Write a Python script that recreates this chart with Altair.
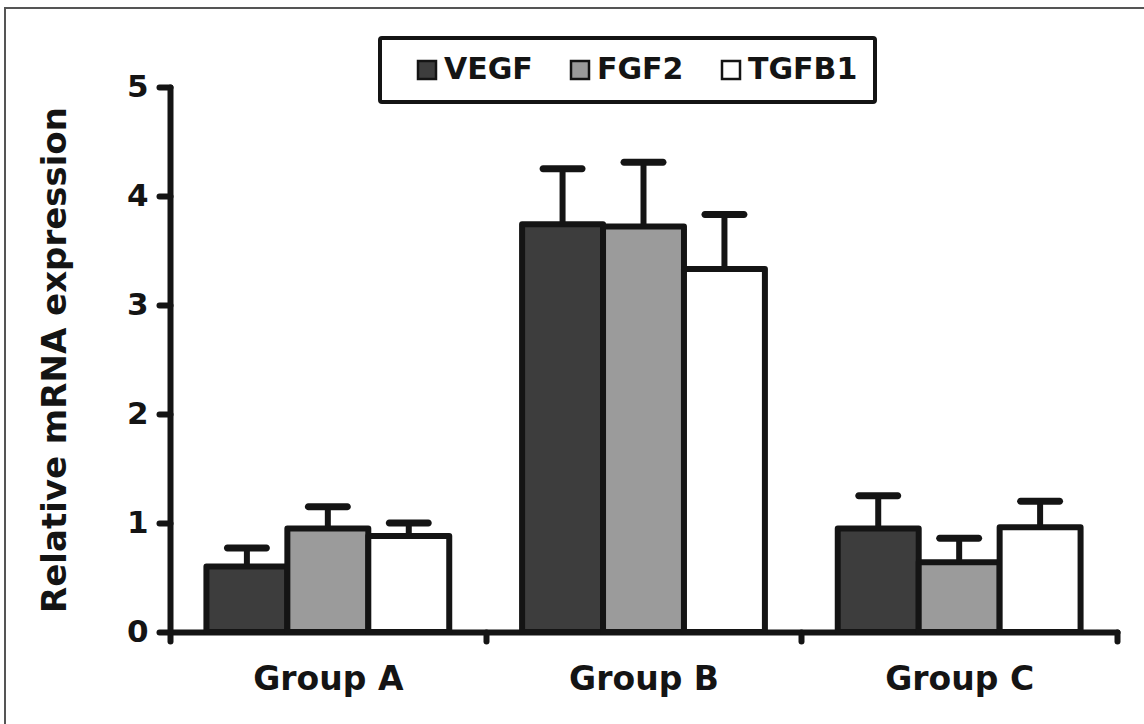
import altair as alt
import pandas as pd

groups = ["Group A", "Group B", "Group C"]
series = ["VEGF", "FGF2", "TGFB1"]
vegf_mean = [0.60, 3.74, 0.95]
fgf2_mean = [0.95, 3.72, 0.64]
tgfb1_mean = [0.88, 3.33, 0.96]
vegf_err = [0.17, 0.51, 0.30]
fgf2_err = [0.20, 0.59, 0.22]
tgfb1_err = [0.12, 0.50, 0.24]
y_ticks = [0, 1, 2, 3, 4, 5]
colors = ["#3d3d3d", "#9b9b9b", "#ffffff"]

rows = []
for s, means, errs in zip(series, [vegf_mean, fgf2_mean, tgfb1_mean], [vegf_err, fgf2_err, tgfb1_err]):
    for g, m, e in zip(groups, means, errs):
        rows.append({"group": g, "series": s, "mean": m, "upper": m + e})
df = pd.DataFrame(rows)

INK = "#141414"
FONT = "DejaVu Sans"

x_enc = alt.X(
    "group:N",
    sort=groups,
    scale=alt.Scale(paddingInner=0, paddingOuter=0),
    axis=alt.Axis(
        title=None,
        labelAngle=0,
        labelFont=FONT,
        labelFontSize=33,
        labelFontWeight="bold",
        labelColor=INK,
        labelPadding=22,
        tickBand="extent",
        tickSize=9,
        tickWidth=6,
        tickColor=INK,
        tickCap="round",
        domainWidth=6,
        domainColor=INK,
        domainCap="round",
        grid=False,
    ),
)
xoff_enc = alt.XOffset("series:N", sort=series, scale=alt.Scale(paddingInner=0, paddingOuter=0.45))

y_scale = alt.Scale(domain=[0, 5], nice=False)

base = alt.Chart(df)

bars = base.mark_bar(stroke=INK, strokeWidth=6, strokeJoin="round").encode(
    x=x_enc,
    xOffset=xoff_enc,
    y=alt.Y(
        "mean:Q",
        scale=y_scale,
        axis=alt.Axis(
            values=y_ticks,
            format="d",
            title="Relative mRNA expression",
            titleFont=FONT,
            titleFontSize=34,
            titleFontWeight="bold",
            titleColor=INK,
            titlePadding=54,
            labelFont=FONT,
            labelFontSize=31,
            labelFontWeight="bold",
            labelColor=INK,
            labelPadding=11,
            tickSize=11,
            tickWidth=6,
            tickColor=INK,
            tickCap="round",
            domainWidth=6,
            domainColor=INK,
            domainCap="round",
            grid=False,
        ),
    ),
    color=alt.Color(
        "series:N",
        sort=series,
        scale=alt.Scale(domain=series, range=colors),
        legend=alt.Legend(
            title=None,
            orient="none",
            legendX=210,
            legendY=-49,
            direction="horizontal",
            symbolType="square",
            symbolSize=324,
            symbolStrokeColor=INK,
            symbolStrokeWidth=2.5,
            symbolOpacity=1,
            symbolOffset=15,
            labelFont=FONT,
            labelFontSize=30,
            labelFontWeight="bold",
            labelColor=INK,
            labelOffset=2,
            columnPadding=17,
            padding=17,
            strokeColor=INK,
            cornerRadius=2,
            fillColor="white",
        ),
    ),
)

rules = base.mark_rule(color=INK, strokeWidth=6).encode(
    x=x_enc,
    xOffset=xoff_enc,
    y=alt.Y("mean:Q", scale=y_scale),
    y2="upper:Q",
)

caps = base.mark_tick(color=INK, thickness=7, size=46, cornerRadius=3.5, opacity=1).encode(
    x=x_enc,
    xOffset=xoff_enc,
    y=alt.Y("upper:Q", scale=y_scale),
)

frame = alt.Chart(pd.DataFrame({"k": [0]})).mark_rect(
    fill=None, stroke="#555555", strokeWidth=2
).encode(
    x=alt.value(-165), x2=alt.value(1400), y=alt.value(-79), y2=alt.value(900)
)

chart = (
    alt.layer(frame, rules, bars, caps)
    .properties(
        width=947,
        height=545,
        autosize=alt.AutoSizeParams(type="none"),
        padding={"left": 170, "top": 87, "right": 27, "bottom": 92},
        background="white",
    )
    .configure_view(stroke=None)
    .configure_legend(strokeWidth=4)
)

chart.save("out.html", embed_options={"renderer": "svg", "actions": False})
